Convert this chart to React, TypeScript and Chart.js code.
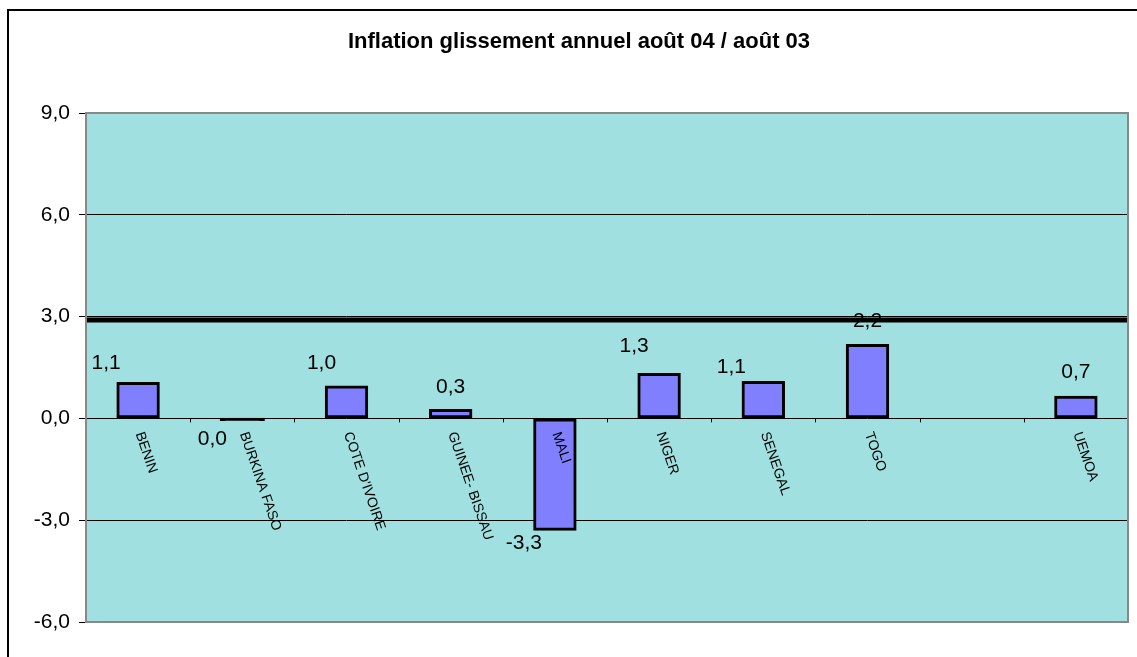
import React, { useEffect, useRef } from "react";
import { Chart, registerables } from "chart.js";

Chart.register(...registerables);

const chartTitle = "Inflation glissement annuel août 04 / août 03";
const categories = [
  "BENIN",
  "BURKINA FASO",
  "COTE D'IVOIRE",
  "GUINEE- BISSAU",
  "MALI",
  "NIGER",
  "SENEGAL",
  "TOGO",
  "",
  "UEMOA",
];
const inflation: (number | null)[] = [1.06, -0.04, 0.96, 0.27, -3.3, 1.33, 1.09, 2.18, null, 0.66];
const thresholdLine = [2.9, 2.9];
const thresholdPoints = ["start", "end"];
const yTickValues = [-6, -3, 0, 3, 6, 9];

// style: value label placement (dx, dy) relative to bar end
const labelOffsets = [
  [-32, -19],
  [-30, 19],
  [-25, -23],
  [0, -22],
  [-31, 13],
  [-25, -27],
  [-32, -14],
  [0, -23],
  [0, 0],
  [0, -24],
];

const FONT = "'Liberation Sans', Arial, sans-serif";
const PLOT_BG = "#A0E0E0";
const BAR_FILL = "#8080FF";

const fmt = (v: number) => {
  let r = Math.round(v * 10) / 10;
  if (r === 0) r = 0;
  return r.toFixed(1).replace(".", ",");
};

const nearZero = (c: any) => c.raw !== null && c.raw !== undefined && Math.abs(c.raw) < 0.1;

const decorPlugin = {
  id: "decor",
  beforeDraw(chart: any) {
    const { ctx, chartArea: a } = chart;
    ctx.save();
    ctx.fillStyle = PLOT_BG;
    ctx.fillRect(a.left, a.top, a.right - a.left, a.bottom - a.top);
    ctx.restore();
  },
  afterDatasetsDraw(chart: any) {
    const { ctx, chartArea: a } = chart;
    const xs = chart.scales.x;
    const ys = chart.scales.y;
    const zero = ys.getPixelForValue(0);
    ctx.save();
    // category boundary tick marks on the zero line
    ctx.strokeStyle = "#000";
    ctx.lineWidth = 1;
    const n = categories.length;
    for (let i = 0; i <= n; i++) {
      let x: number;
      if (i === 0) x = a.left;
      else if (i === n) x = a.right;
      else x = (xs.getPixelForValue(i - 1) + xs.getPixelForValue(i)) / 2;
      x = Math.round(x) + 0.5;
      ctx.beginPath();
      ctx.moveTo(x, zero);
      ctx.lineTo(x, zero + 4);
      ctx.stroke();
    }
    // rotated category labels
    ctx.fillStyle = "#000";
    ctx.font = `14px ${FONT}`;
    ctx.textAlign = "left";
    ctx.textBaseline = "middle";
    const ang = (71 * Math.PI) / 180;
    categories.forEach((c, i) => {
      if (!c) return;
      const x = xs.getPixelForValue(i) + 1;
      ctx.save();
      ctx.translate(x, zero + 14);
      ctx.rotate(ang);
      ctx.fillText(c, 0, 0);
      ctx.restore();
    });
    // value labels
    const meta = chart.getDatasetMeta(0);
    ctx.font = `21px ${FONT}`;
    ctx.textAlign = "center";
    ctx.textBaseline = "middle";
    meta.data.forEach((el: any, i: number) => {
      const v = inflation[i];
      if (v === null || v === undefined) return;
      const [dx, dy] = labelOffsets[i];
      ctx.fillText(fmt(v), el.x + dx, el.y + dy);
    });
    ctx.restore();
  },
  afterDraw(chart: any) {
    const { ctx, chartArea: a } = chart;
    ctx.save();
    // plot area border
    ctx.strokeStyle = "#888888";
    ctx.lineWidth = 2;
    ctx.strokeRect(a.left, a.top, a.right - a.left, a.bottom - a.top);
    // outer chart border (extends beyond the image)
    ctx.strokeStyle = "#000";
    ctx.lineWidth = 2;
    ctx.beginPath();
    ctx.moveTo(8, chart.height);
    ctx.lineTo(8, 10);
    ctx.lineTo(chart.width, 10);
    ctx.stroke();
    // title
    ctx.fillStyle = "#000";
    ctx.font = `bold 22px ${FONT}`;
    ctx.textAlign = "center";
    ctx.textBaseline = "alphabetic";
    ctx.fillText(chartTitle, 579, 48);
    ctx.restore();
  },
};

export default function App() {
  const ref = useRef<HTMLCanvasElement | null>(null);

  useEffect(() => {
    if (!ref.current) return;
    const chart = new Chart(ref.current, {
      type: "bar",
      data: {
        labels: categories,
        datasets: [
          {
            type: "bar",
            data: inflation as any,
            xAxisID: "x",
            yAxisID: "y",
            grouped: false,
            backgroundColor: (c: any) => (nearZero(c) ? "#000" : BAR_FILL),
            inflateAmount: (c: any) => (nearZero(c) ? 1.2 : 0.33),
            borderColor: "#000",
            borderWidth: 3,
            borderSkipped: false,
            barPercentage: 0.41,
            categoryPercentage: 1,
          } as any,
          {
            type: "line",
            data: thresholdLine,
            xAxisID: "x2",
            yAxisID: "y",
            borderColor: "#000",
            borderWidth: 5,
            pointRadius: 0,
            fill: false,
          } as any,
        ],
      },
      options: {
        responsive: false,
        animation: false,
        layout: { padding: { left: 0, top: 113, right: 9, bottom: 35 } },
        plugins: {
          legend: { display: false },
          tooltip: { enabled: false },
          title: { display: false },
        },
        scales: {
          x: {
            type: "category",
            labels: categories,
            offset: true,
            display: false,
          },
          x2: {
            type: "category",
            labels: thresholdPoints,
            offset: false,
            display: false,
          },
          y: {
            min: -6,
            max: 9,
            afterFit: (s: any) => {
              s.width = 86;
            },
            afterBuildTicks: (s: any) => {
              s.ticks = yTickValues.map((v) => ({ value: v }));
            },
            border: { display: false },
            grid: {
              color: (c: any) =>
                c.tick && c.tick.value === 9 ? "rgba(0,0,0,0)" : "#000",
              lineWidth: 1,
              tickLength: 7,
              tickColor: "#000",
            },
            ticks: {
              padding: 9,
              color: "#000",
              font: { family: FONT, size: 21 },
              callback: (v: any) => Number(v).toFixed(1).replace(".", ","),
            },
          },
        },
      } as any,
      plugins: [decorPlugin],
    });
    return () => chart.destroy();
  }, []);

  return (
    <div style={{ position: "fixed", left: 0, top: 0, width: 1137, height: 657, background: "#fff" }}>
      <canvas ref={ref} width={1137} height={657} style={{ display: "block" }} />
    </div>
  );
}
